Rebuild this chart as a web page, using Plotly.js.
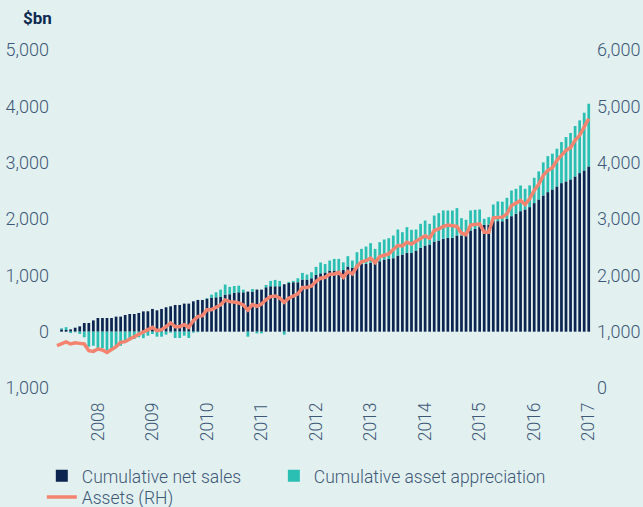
<!DOCTYPE html>
<html>
<head>
<meta charset="utf-8">
<script src="https://cdn.plot.ly/plotly-3.0.1.min.js"></script>
<style>html,body{margin:0;padding:0;background:#e2f1f0;}#chart{width:643px;height:507px;}</style>
</head>
<body>
<div id="chart"></div>
<script>
const months = [
"2007-04","2007-05","2007-06","2007-07","2007-08","2007-09","2007-10","2007-11","2007-12",
"2008-01","2008-02","2008-03","2008-04","2008-05","2008-06","2008-07","2008-08","2008-09","2008-10","2008-11","2008-12",
"2009-01","2009-02","2009-03","2009-04","2009-05","2009-06","2009-07","2009-08","2009-09","2009-10","2009-11","2009-12",
"2010-01","2010-02","2010-03","2010-04","2010-05","2010-06","2010-07","2010-08","2010-09","2010-10","2010-11","2010-12",
"2011-01","2011-02","2011-03","2011-04","2011-05","2011-06","2011-07","2011-08","2011-09","2011-10","2011-11","2011-12",
"2012-01","2012-02","2012-03","2012-04","2012-05","2012-06","2012-07","2012-08","2012-09","2012-10","2012-11","2012-12",
"2013-01","2013-02","2013-03","2013-04","2013-05","2013-06","2013-07","2013-08","2013-09","2013-10","2013-11","2013-12",
"2014-01","2014-02","2014-03","2014-04","2014-05","2014-06","2014-07","2014-08","2014-09","2014-10","2014-11","2014-12",
"2015-01","2015-02","2015-03","2015-04","2015-05","2015-06","2015-07","2015-08","2015-09","2015-10","2015-11","2015-12",
"2016-01","2016-02","2016-03","2016-04","2016-05","2016-06","2016-07","2016-08","2016-09","2016-10","2016-11","2016-12",
"2017-01"];

const netSales = [
0,40,30,40,70,95,154,154,200,243,243,243,243,267,267,296,314,314,332,360,
362,403,379,403,433,450,474,474,498,498,539,563,563,587,605,610,622,658,665,690,
699,699,711,711,747,747,788,806,806,806,842,865,877,877,925,925,948,1008,1035,1050,
1085,1085,1085,1096,1156,1132,1185,1203,1203,1221,1221,1250,1280,1292,1304,1351,1369,1399,1396,1440,
1487,1529,1547,1600,1618,1648,1665,1665,1707,1707,1707,1796,1825,1867,1897,1897,1962,1962,1960,2003,
2050,2092,2139,2169,2211,2282,2347,2418,2477,2525,2578,2637,2667,2703,2756,2815,2862,2933];

const appreciation = [
0,20,50,-25,-10,-40,-100,-267,-250,-290,-290,-325,-320,-280,-250,-190,-150,-130,-100,-115,
-71,-41,-89,-89,-53,-18,-113,-113,-71,-113,-18,-10,0,10,53,89,124,178,130,120,
118,47,-89,47,-30,-30,41,95,113,95,-53,18,24,71,118,89,107,142,193,150,
178,207,207,136,184,130,225,267,308,350,249,338,356,367,403,462,397,456,412,373,
427,444,367,462,486,504,486,486,486,308,279,356,338,302,107,136,296,350,347,373,
456,444,456,367,385,450,498,587,640,634,670,729,788,824,895,936,1025,1114];

const assets = [
751,792,817,781,804,792,781,662,650,692,674,632,674,733,810,822,870,911,959,995,
1030,1077,1018,1036,1089,1154,1089,1089,1124,1077,1196,1267,1284,1391,1391,1433,1474,1563,1533,1527,
1510,1474,1385,1480,1450,1492,1569,1622,1634,1599,1521,1593,1628,1670,1782,1782,1812,1895,1948,1966,
2019,2025,2049,1966,2067,2025,2156,2239,2262,2304,2227,2333,2357,2381,2458,2529,2523,2588,2555,2600,
2648,2701,2659,2796,2825,2867,2891,2885,2867,2748,2724,2891,2896,2914,2766,2766,3021,3033,3033,3092,
3240,3282,3329,3258,3359,3507,3614,3774,3863,3910,4040,4129,4218,4266,4396,4485,4633,4781];

const xTickVals = ["2008-01","2009-01","2010-01","2011-01","2012-01","2013-01","2014-01","2015-01","2016-01","2017-01"];
const xTickText = ["2008","2009","2010","2011","2012","2013","2014","2015","2016","2017"];
const yLeftVals = [-1000,0,1000,2000,3000,4000,5000];
const yLeftText = ["1,000","0","1,000","2,000","3,000","4,000","5,000"];
const yRightVals = [0,1000,2000,3000,4000,5000,6000];
const yRightText = ["0","1,000","2,000","3,000","4,000","5,000","6,000"];

const NAVY = "#0c2550";
const TEAL = "#2abfb2";
const SALMON = "#f4846f";
const TXT = "#3e5878";
const FONT = "Roboto, 'Open Sans', sans-serif";
const FS = 17.5;

const traces = [
  {type:"bar", name:"Cumulative net sales", x:months, y:netSales,
   marker:{color:NAVY}, hoverinfo:"skip", legend:"legend"},
  {type:"bar", name:"Cumulative asset appreciation", x:months, y:appreciation,
   marker:{color:TEAL}, hoverinfo:"skip", legend:"legend3"},
  {type:"scatter", mode:"lines", name:"Assets (RH)", x:months, y:assets, yaxis:"y2",
   line:{color:SALMON, width:3.5}, hoverinfo:"skip", legend:"legend2"}
];

const legendBase = {orientation:"h", xanchor:"left", yanchor:"middle",
  font:{family:FONT, size:FS, color:TXT}, bgcolor:"rgba(0,0,0,0)"};

const layout = {
  width:643, height:507,
  paper_bgcolor:"#e2f1f0", plot_bgcolor:"#e2f1f0",
  margin:{l:50, r:47, t:50, b:119, autoexpand:false},
  barmode:"relative", bargap:0.4,
  font:{family:FONT, size:FS, color:TXT, weight:300},
  showlegend:true,
  legend:Object.assign({}, legendBase, {x:-0.015, y:-0.26}),
  legend3:Object.assign({}, legendBase, {x:0.410, y:-0.26}),
  legend2:Object.assign({}, legendBase, {x:-0.015, y:-0.3225}),
  xaxis:{type:"category", range:[-1.54, 118.6], tickmode:"array", tickvals:xTickVals, ticktext:xTickText,
         tickangle:-90, showgrid:false, zeroline:false, showline:false, ticks:"", automargin:false,
         ticklabelstandoff:10, tickfont:{family:FONT, size:FS, color:TXT}},
  yaxis:{range:[-1000,5000], tickmode:"array", tickvals:yLeftVals, ticktext:yLeftText, automargin:false,
         showgrid:false, zeroline:false, showline:false, ticks:"",
         tickfont:{family:FONT, size:18, color:TXT}},
  yaxis2:{overlaying:"y", side:"right", range:[0,6000], tickmode:"array", tickvals:yRightVals, ticktext:yRightText,
          showgrid:false, zeroline:false, showline:false, ticks:"", automargin:false,
          tickfont:{family:FONT, size:18, color:TXT}},
  annotations:[{text:"<b>$bn</b>", xref:"paper", yref:"paper", x:-0.053, y:1.095, xanchor:"left", yanchor:"middle",
                showarrow:false, font:{family:FONT, size:17, color:"#0d2a50", weight:700}}]
};

Plotly.newPlot("chart", traces, layout, {displayModeBar:false, staticPlot:true});
</script>
</body>
</html>
